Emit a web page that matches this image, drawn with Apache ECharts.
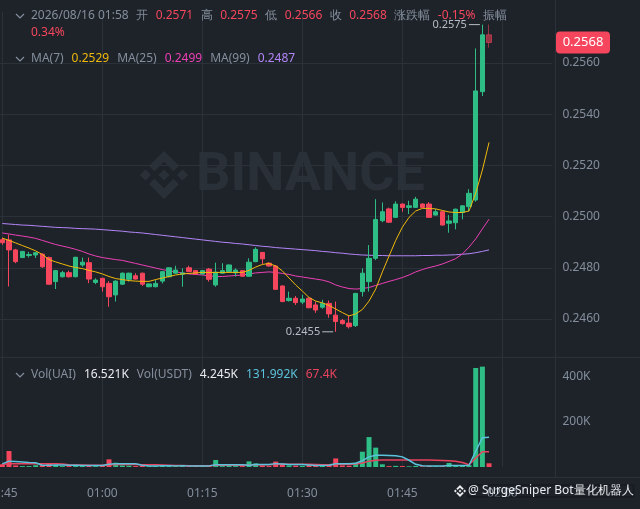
<!DOCTYPE html>
<html><head><meta charset="utf-8">
<script src="https://cdn.jsdelivr.net/npm/echarts@6/dist/echarts.min.js"></script>
<style>html,body{margin:0;padding:0;background:#1E2329;}#c{width:640px;height:509px;}</style>
</head><body><div id="c"></div><script>
// ---- data ----
const times = ['00:45','00:46','00:47','00:48','00:49','00:50','00:51','00:52','00:53','00:54','00:55','00:56','00:57','00:58','00:59',
'01:00','01:01','01:02','01:03','01:04','01:05','01:06','01:07','01:08','01:09','01:10','01:11','01:12','01:13','01:14',
'01:15','01:16','01:17','01:18','01:19','01:20','01:21','01:22','01:23','01:24','01:25','01:26','01:27','01:28','01:29',
'01:30','01:31','01:32','01:33','01:34','01:35','01:36','01:37','01:38','01:39','01:40','01:41','01:42','01:43','01:44',
'01:45','01:46','01:47','01:48','01:49','01:50','01:51','01:52','01:53','01:54','01:55','01:56','01:57','01:58','01:59',
'02:00','02:01','02:02','02:03','02:04','02:05','02:06','02:07'];
const opens = [0.24910,0.24909,0.24870,0.24840,0.24848,0.24850,0.24853,0.24840,0.24746,0.24765,
0.24781,0.24765,0.24811,0.24820,0.24743,0.24759,0.24739,0.24694,0.24736,0.24755,
0.24769,0.24779,0.24726,0.24726,0.24748,0.24765,0.24779,0.24775,0.24800,0.24789,
0.24776,0.24795,0.24733,0.24779,0.24785,0.24780,0.24789,0.24767,0.24824,0.24860,
0.24818,0.24807,0.24729,0.24672,0.24681,0.24666,0.24681,0.24655,0.24646,0.24661,
0.24615,0.24594,0.24584,0.24574,0.24707,0.24746,0.24837,0.24984,0.25030,0.24997,
0.25049,0.25036,0.25036,0.25049,0.25049,0.25006,0.25019,0.24974,0.24976,0.25016,
0.25039,0.25065,0.25488,0.25710];
const closes = [0.24898,0.24870,0.24824,0.24864,0.24852,0.24859,0.24804,0.24736,0.24789,0.24781,
0.24765,0.24841,0.24822,0.24756,0.24752,0.24726,0.24687,0.24748,0.24779,0.24779,
0.24756,0.24736,0.24737,0.24739,0.24785,0.24800,0.24791,0.24780,0.24785,0.24776,
0.24789,0.24755,0.24783,0.24789,0.24811,0.24791,0.24767,0.24822,0.24872,0.24835,
0.24807,0.24716,0.24668,0.24681,0.24664,0.24678,0.24644,0.24635,0.24661,0.24620,
0.24590,0.24582,0.24570,0.24700,0.24779,0.24837,0.24989,0.25019,0.24978,0.25049,
0.25036,0.25042,0.25068,0.25036,0.24997,0.25019,0.24967,0.24983,0.25029,0.25042,
0.25091,0.25491,0.25710,0.25680];
const lows = [0.24890,0.24727,0.24818,0.24838,0.24840,0.24838,0.24800,0.24734,0.24717,0.24762,
0.24762,0.24763,0.24804,0.24740,0.24736,0.24707,0.24648,0.24668,0.24733,0.24746,
0.24754,0.24729,0.24724,0.24724,0.24739,0.24763,0.24777,0.24726,0.24783,0.24774,
0.24774,0.24746,0.24726,0.24777,0.24783,0.24766,0.24765,0.24765,0.24822,0.24815,
0.24805,0.24714,0.24666,0.24668,0.24655,0.24658,0.24642,0.24624,0.24640,0.24605,
0.24550,0.24578,0.24563,0.24569,0.24688,0.24707,0.24830,0.24978,0.24975,0.24995,
0.25019,0.25010,0.25034,0.25034,0.24995,0.25004,0.24965,0.24937,0.24950,0.24989,
0.25020,0.25058,0.25471,0.25660];
const highs = [0.24918,0.24929,0.24874,0.24866,0.24862,0.24862,0.24857,0.24844,0.24792,0.24788,
0.24789,0.24843,0.24840,0.24840,0.24759,0.24761,0.24748,0.24751,0.24782,0.24781,
0.24779,0.24781,0.24739,0.24752,0.24787,0.24802,0.24808,0.24798,0.24808,0.24791,
0.24791,0.24799,0.24820,0.24818,0.24813,0.24798,0.24791,0.24837,0.24880,0.24862,
0.24822,0.24809,0.24731,0.24707,0.24690,0.24695,0.24683,0.24668,0.24675,0.24672,
0.24668,0.24600,0.24613,0.24702,0.24798,0.24889,0.25068,0.25055,0.25035,0.25060,
0.25051,0.25062,0.25077,0.25052,0.25057,0.25030,0.25021,0.25006,0.25031,0.25044,
0.25107,0.25657,0.25750,0.25750];
const ma7 = [0.24916,0.24907,0.24897,0.24887,0.24877,0.24866,0.24852,0.24832,0.24823,0.24815,
0.24807,0.24801,0.24797,0.24790,0.24784,0.24776,0.24766,0.24758,0.24754,0.24750,
0.24748,0.24747,0.24747,0.24754,0.24760,0.24766,0.24772,0.24776,0.24778,0.24780,
0.24782,0.24782,0.24782,0.24782,0.24782,0.24782,0.24782,0.24790,0.24803,0.24813,
0.24817,0.24807,0.24788,0.24760,0.24733,0.24709,0.24684,0.24670,0.24663,0.24653,
0.24639,0.24625,0.24612,0.24620,0.24637,0.24670,0.24717,0.24784,0.24846,0.24907,
0.24959,0.24997,0.25022,0.25032,0.25032,0.25030,0.25024,0.25018,0.25016,0.25016,
0.25022,0.25092,0.25182,0.25290];
const ma25 = [0.24936,0.24932,0.24928,0.24924,0.24920,0.24915,0.24907,0.24899,0.24891,0.24885,
0.24879,0.24872,0.24864,0.24854,0.24846,0.24840,0.24836,0.24832,0.24829,0.24823,
0.24817,0.24811,0.24805,0.24799,0.24793,0.24788,0.24784,0.24780,0.24776,0.24774,
0.24772,0.24768,0.24766,0.24766,0.24768,0.24770,0.24772,0.24776,0.24780,0.24782,
0.24784,0.24782,0.24778,0.24774,0.24768,0.24764,0.24760,0.24756,0.24752,0.24745,
0.24733,0.24725,0.24719,0.24717,0.24719,0.24723,0.24731,0.24739,0.24747,0.24754,
0.24762,0.24772,0.24784,0.24793,0.24801,0.24807,0.24815,0.24825,0.24836,0.24854,
0.24881,0.24913,0.24952,0.24990];
const ma99 = [0.24973,0.24971,0.24969,0.24967,0.24966,0.24964,0.24962,0.24960,0.24958,0.24957,
0.24956,0.24954,0.24953,0.24952,0.24951,0.24949,0.24947,0.24945,0.24943,0.24940,
0.24938,0.24936,0.24933,0.24930,0.24927,0.24924,0.24921,0.24918,0.24915,0.24912,
0.24909,0.24906,0.24903,0.24900,0.24898,0.24895,0.24893,0.24890,0.24887,0.24884,
0.24882,0.24879,0.24877,0.24875,0.24873,0.24871,0.24869,0.24867,0.24864,0.24862,
0.24859,0.24857,0.24854,0.24852,0.24850,0.24849,0.24848,0.24848,0.24847,0.24847,
0.24847,0.24847,0.24847,0.24848,0.24848,0.24849,0.24849,0.24850,0.24851,0.24853,
0.24855,0.24859,0.24864,0.24870];
// volume in thousands (K)
const volumes = [12,71,7,4,4,8,8,15,9,4,
4,10,6,9,4,7,34,19,7,6,
4,7,4,5,7,7,4,6,4,4,
4,6,31,4,7,4,4,25,16,7,
4,24,15,7,6,5,10,6,5,13,
38,7,6,19,68,133,86,12,4,5,
4,3,5,3,5,3,4,18,8,5,
8,440,446,16.521];
const volMa5 = [14,26,24,22,20,19,8,8,9,9,
8,8,7,7,7,7,12,15,15,15,
14,8,5,5,6,6,5,6,5,5,
5,5,10,10,10,10,10,8,11,11,
11,15,13,11,11,11,9,7,7,8,
14,14,14,17,28,45,52,52,51,50,
45,30,12,6,4,4,4,7,7,7,
8,70,130,132];
const volMa10 = [12,14,14,14,14,14,14,14,14,13,
10,9,9,8,8,8,10,11,11,11,
11,10,10,10,9,8,7,7,6,6,
6,6,8,8,8,8,8,9,10,10,
10,12,12,12,12,12,12,11,10,10,
12,12,12,13,18,26,30,31,31,31,
31,31,31,31,31,30,29,28,26,20,
10,40,68,67.4];
const priceTicks = [0.2460,0.2480,0.2500,0.2520,0.2540,0.2560];
const volTicks = [200,400];
const lowMark = {idx:50, value:0.2455, text:'0.2455'};
const highMark = {idx:72, value:0.2575, text:'0.2575'};
const lastPrice = 0.2568;

// ---- styles ----
const FONT = '"Noto Sans", Roboto, sans-serif';
const BG='#1E2329', UP='#2EBD85', DOWN='#F6465D', GRID='#2B3139', TXT='#848E9C', WHITE='#EAECEF';
const C7='#F0B90B', C25='#EB40B5', C99='#B385F8', CV5='#5BC3DC', CV10='#E8435F';

const last = opens.length - 1;
const candleData = opens.map((o,i)=>{
  const v=[o,closes[i],lows[i],highs[i]];
  return i===last ? {value:v, itemStyle:{opacity:0.55}} : v;
});
const volData = volumes.map((v,i)=>({value:v, itemStyle:{color: closes[i]>=opens[i]?UP:DOWN}}));

const LOGO = 'M38.171 53.203l24.829-24.829 24.841 24.841 14.441-14.441L63 0 23.73 39.27l14.441 14.441zM0 63l14.442-14.442L28.883 63 14.44 77.442 0 63zm38.171 9.797L63 97.626l24.84-24.84 14.45 14.432-.006.007L63 126 23.73 86.73l-.02-.02 14.461-14.413zM97.117 63l14.442-14.442L126 63l-14.441 14.442L97.117 63zm-19.47-.01h.006V63L63 77.652 48.37 63.02l-.025-.025.025-.026 2.563-2.563 1.247-1.247L63 48.348l14.654 14.654-.007-.012z';
function logoImg(fill){
  return 'data:image/svg+xml;charset=utf-8,' + encodeURIComponent("<svg xmlns='http://www.w3.org/2000/svg' width='126' height='126' viewBox='0 0 126 126'><path fill='"+fill+"' d='"+LOGO+"'/></svg>");
}

function chevron(y){ return {type:'polyline', shape:{points:[[16,y-2],[20,y+2],[24,y-2]]}, style:{stroke:TXT, lineWidth:1.2, fill:null}, z:50}; }
function richLine(x,y,parts,gap){
  const rich={}; let text='';
  parts.forEach((p,k)=>{ rich['s'+k]={fill:p[1], padding:[0, k===parts.length-1?0:gap, 0, 0], fontSize:12, fontFamily:FONT}; text+='{s'+k+'|'+p[0]+'}'; });
  return {type:'text', x:x, y:y, z:50, style:{text:text, rich:rich, verticalAlign:'middle', fontSize:12, fontFamily:FONT}};
}

const chart = echarts.init(document.getElementById('c'), null, {renderer:'canvas'});
const PW = 553.4;
const option = {
  backgroundColor: BG,
  animation: false,
  textStyle: {fontFamily: FONT},
  grid: [
    {left:-1, top:11.8, width:PW, height:358.4, containLabel:false, outerBoundsMode:'none'},
    {left:-1, top:363.5, width:PW, height:103.5, containLabel:false, outerBoundsMode:'none'}
  ],
  xAxis: [
    {type:'category', gridIndex:0, data:times, boundaryGap:true,
     axisLine:{show:false}, axisTick:{show:false}, axisLabel:{show:false},
     splitLine:{show:true, interval:14, alignWithLabel:true, lineStyle:{color:GRID, width:1}}},
    {type:'category', gridIndex:1, data:times, boundaryGap:true,
     axisLine:{show:false}, axisTick:{show:false},
     axisLabel:{interval:14, color:TXT, fontSize:12, margin:21, fontFamily:FONT},
     splitLine:{show:true, interval:14, alignWithLabel:true, lineStyle:{color:GRID, width:1}}}
  ],
  yAxis: [
    {type:'value', gridIndex:0, position:'right', min:0.2440, max:0.2580, interval:0.0020,
     axisLine:{show:false}, axisTick:{show:false},
     axisLabel:{color:TXT, fontSize:12, margin:10, fontFamily:FONT,
       formatter:v=>{const f=priceTicks.find(t=>Math.abs(t-v)<1e-7); return f===undefined?'':f.toFixed(4);}},
     splitLine:{show:true, lineStyle:{color:['rgba(0,0,0,0)',GRID,GRID,GRID,GRID,GRID,GRID,'rgba(0,0,0,0)']}}},
    {type:'value', gridIndex:1, position:'right', min:0, max:460, interval:200,
     axisLine:{show:false}, axisTick:{show:false},
     axisLabel:{color:TXT, fontSize:12, margin:10, fontFamily:FONT,
       formatter:v=>volTicks.indexOf(Math.round(v))>=0? Math.round(v)+'K':''},
     splitLine:{show:false}}
  ],
  series: [
    {type:'line', name:'MA99', xAxisIndex:0, yAxisIndex:0, data:ma99, showSymbol:false, silent:true,
     lineStyle:{color:C99, width:1}, z:3},
    {type:'line', name:'MA25', xAxisIndex:0, yAxisIndex:0, data:ma25, showSymbol:false, silent:true,
     lineStyle:{color:C25, width:1}, z:3},
    {type:'candlestick', xAxisIndex:0, yAxisIndex:0, data:candleData, barWidth:5, z:4, clip:false,
     itemStyle:{color:UP, color0:DOWN, borderColor:UP, borderColor0:DOWN, borderWidth:1},
     markPoint:{silent:true, symbol:'rect', symbolSize:[11,1], symbolOffset:[-8,0], itemStyle:{color:'#B7BDC6'},
       label:{show:true, position:'left', distance:2, color:'#B7BDC6', fontSize:11, fontFamily:FONT},
       data:[
         {coord:[times[lowMark.idx], lowMark.value], value:lowMark.text, label:{formatter:lowMark.text}},
         {coord:[times[highMark.idx], highMark.value], value:highMark.text, label:{formatter:highMark.text}}
       ]}},
    {type:'line', name:'MA7', xAxisIndex:0, yAxisIndex:0, data:ma7, showSymbol:false, silent:true,
     lineStyle:{color:C7, width:1}, z:5},
    {type:'bar', xAxisIndex:1, yAxisIndex:1, data:volData, barWidth:5, z:3},
    {type:'line', xAxisIndex:1, yAxisIndex:1, data:volMa10, showSymbol:false, silent:true, lineStyle:{color:CV10, width:1.5}, z:4},
    {type:'line', xAxisIndex:1, yAxisIndex:1, data:volMa5, showSymbol:false, silent:true, lineStyle:{color:CV5, width:1.5}, z:4}
  ],
  graphic: [
    {type:'image', x:140, y:151, z:-1, style:{image:logoImg('#2A3038'), width:48, height:48}},
    {type:'text', x:196, y:176, z:-1, style:{text:'BINANCE', fill:'#2A3038', font:'bold 54px Roboto, sans-serif', verticalAlign:'middle'}},
    {type:'line', shape:{x1:0, y1:357.5, x2:640, y2:357.5}, style:{stroke:GRID, lineWidth:1}, z:1},
    {type:'line', shape:{x1:0, y1:477.5, x2:640, y2:477.5}, style:{stroke:GRID, lineWidth:1}, z:1},
    {type:'line', shape:{x1:555.5, y1:0, x2:555.5, y2:477}, style:{stroke:GRID, lineWidth:1}, z:1},
    chevron(16), chevron(59), chevron(375),
    richLine(31,16,[['2026/08/16 01:58',TXT],['开',TXT],['0.2571',DOWN],['高',TXT],['0.2575',DOWN],['低',TXT],['0.2566',DOWN],['收',TXT],['0.2568',DOWN],['涨跌幅',TXT],['-0.15%',DOWN],['振幅',TXT]],7.5),
    richLine(31,33,[['0.34%',DOWN]],8),
    richLine(31,59,[['MA(7)',TXT],['0.2529',C7],['MA(25)',TXT],['0.2499',C25],['MA(99)',TXT],['0.2487',C99]],8),
    richLine(31,375,[['Vol(UAI)',TXT],['16.521K',WHITE],['Vol(USDT)',TXT],['4.245K',WHITE],['131.992K',CV5],['67.4K',CV10]],8),
    {type:'image', x:454, y:485, z:60, style:{image:logoImg('#EAECEF'), width:12, height:12}},
    {type:'text', x:468, y:491, z:60, style:{text:'@ SurgeSniper Bot量化机器人', fill:WHITE, fontSize:12, fontFamily:FONT, verticalAlign:'middle', textBorderColor:'rgba(20,24,30,0.6)', textBorderWidth:2}}
  ]
};
chart.setOption(option);
// current-price tag: positioned through the price axis scale
const tagY = chart.convertToPixel({yAxisIndex:0}, lastPrice);
chart.setOption({graphic: option.graphic.concat([
  {type:'rect', x:556, y:tagY-11, z:70, shape:{width:54, height:22, r:4}, style:{fill:DOWN}},
  {type:'text', x:583, y:tagY, z:71, style:{text:lastPrice.toFixed(4), fill:'#FFFFFF', fontSize:13, fontFamily:FONT, align:'center', verticalAlign:'middle'}}
])});
</script></body></html>
